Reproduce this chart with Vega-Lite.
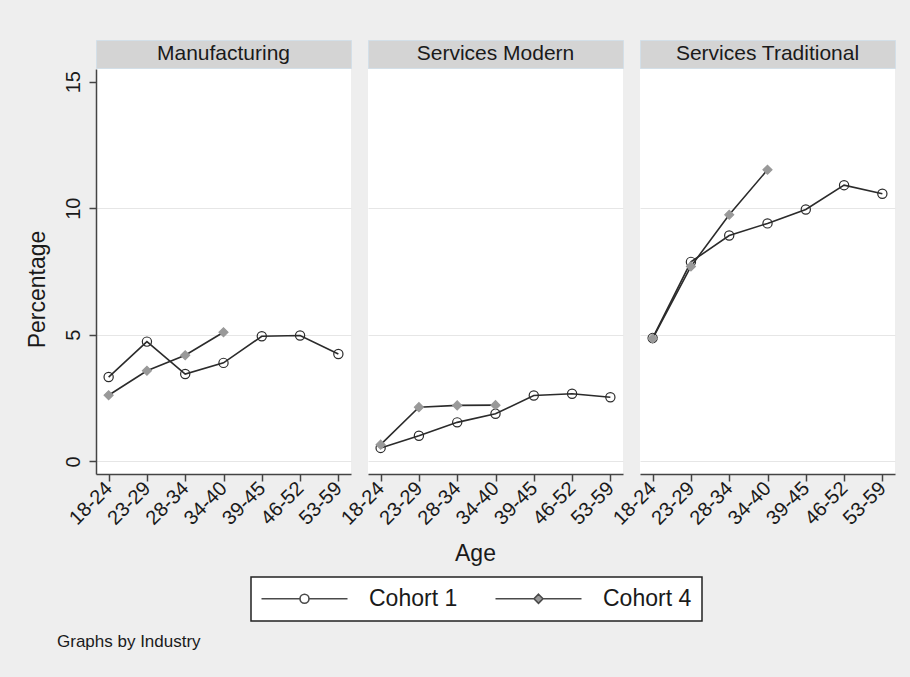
{
  "$schema": "https://vega.github.io/schema/vega-lite/v6.json",
  "background": "#eeeeee",
  "padding": {"left": 26, "top": 39, "right": 14, "bottom": 28},
  "config": {
    "font": "Liberation Sans",
    "view": {"stroke": null},
    "text": {"color": "#1a1a1a"},
    "axis": {
      "labelFont": "Liberation Sans",
      "titleFont": "Liberation Sans",
      "labelColor": "#1a1a1a",
      "titleColor": "#1a1a1a",
      "titleFontWeight": "normal",
      "domainColor": "#444444",
      "domainWidth": 1.5,
      "tickColor": "#444444",
      "tickWidth": 1.5,
      "tickSize": 7,
      "gridColor": "#e6e6e6",
      "gridWidth": 1
    },
    "legend": {
      "orient": "none",
      "legendX": 155,
      "legendY": 537,
      "direction": "horizontal",
      "columns": 2,
      "padding": 10,
      "fillColor": "#ffffff",
      "strokeColor": "#222222",
      "strokeWidth": 1.5,
      "symbolSize": 100,
      "symbolOffset": 32,
      "labelOffset": 53,
      "columnPadding": 34,
      "symbolStrokeColor": "#4a4a4a",
      "symbolStrokeWidth": 1.6,
      "labelFontSize": 23,
      "labelFont": "Liberation Sans",
      "labelColor": "#1a1a1a"
    },
    "title": {"font": "Liberation Sans", "color": "#1a1a1a", "fontWeight": "normal"}
  },
  "datasets": {
    "industries": [
      {"Industry": "Manufacturing"},
      {"Industry": "Services Modern"},
      {"Industry": "Services Traditional"}
    ],
    "rates": [
      {"Industry": "Manufacturing", "Cohort": "Cohort 1", "Age": "18-24", "Pct": 3.33},
      {"Industry": "Manufacturing", "Cohort": "Cohort 1", "Age": "23-29", "Pct": 4.73},
      {"Industry": "Manufacturing", "Cohort": "Cohort 1", "Age": "28-34", "Pct": 3.45},
      {"Industry": "Manufacturing", "Cohort": "Cohort 1", "Age": "34-40", "Pct": 3.89},
      {"Industry": "Manufacturing", "Cohort": "Cohort 1", "Age": "39-45", "Pct": 4.94},
      {"Industry": "Manufacturing", "Cohort": "Cohort 1", "Age": "46-52", "Pct": 4.97},
      {"Industry": "Manufacturing", "Cohort": "Cohort 1", "Age": "53-59", "Pct": 4.24},
      {"Industry": "Manufacturing", "Cohort": "Cohort 4", "Age": "18-24", "Pct": 2.61},
      {"Industry": "Manufacturing", "Cohort": "Cohort 4", "Age": "23-29", "Pct": 3.58},
      {"Industry": "Manufacturing", "Cohort": "Cohort 4", "Age": "28-34", "Pct": 4.19},
      {"Industry": "Manufacturing", "Cohort": "Cohort 4", "Age": "34-40", "Pct": 5.10},
      {"Industry": "Services Modern", "Cohort": "Cohort 1", "Age": "18-24", "Pct": 0.53},
      {"Industry": "Services Modern", "Cohort": "Cohort 1", "Age": "23-29", "Pct": 1.01},
      {"Industry": "Services Modern", "Cohort": "Cohort 1", "Age": "28-34", "Pct": 1.54},
      {"Industry": "Services Modern", "Cohort": "Cohort 1", "Age": "34-40", "Pct": 1.88},
      {"Industry": "Services Modern", "Cohort": "Cohort 1", "Age": "39-45", "Pct": 2.60},
      {"Industry": "Services Modern", "Cohort": "Cohort 1", "Age": "46-52", "Pct": 2.67},
      {"Industry": "Services Modern", "Cohort": "Cohort 1", "Age": "53-59", "Pct": 2.53},
      {"Industry": "Services Modern", "Cohort": "Cohort 4", "Age": "18-24", "Pct": 0.66},
      {"Industry": "Services Modern", "Cohort": "Cohort 4", "Age": "23-29", "Pct": 2.14},
      {"Industry": "Services Modern", "Cohort": "Cohort 4", "Age": "28-34", "Pct": 2.21},
      {"Industry": "Services Modern", "Cohort": "Cohort 4", "Age": "34-40", "Pct": 2.22},
      {"Industry": "Services Traditional", "Cohort": "Cohort 1", "Age": "18-24", "Pct": 4.87},
      {"Industry": "Services Traditional", "Cohort": "Cohort 1", "Age": "23-29", "Pct": 7.88},
      {"Industry": "Services Traditional", "Cohort": "Cohort 1", "Age": "28-34", "Pct": 8.92},
      {"Industry": "Services Traditional", "Cohort": "Cohort 1", "Age": "34-40", "Pct": 9.40},
      {"Industry": "Services Traditional", "Cohort": "Cohort 1", "Age": "39-45", "Pct": 9.95},
      {"Industry": "Services Traditional", "Cohort": "Cohort 1", "Age": "46-52", "Pct": 10.91},
      {"Industry": "Services Traditional", "Cohort": "Cohort 1", "Age": "53-59", "Pct": 10.57},
      {"Industry": "Services Traditional", "Cohort": "Cohort 4", "Age": "18-24", "Pct": 4.85},
      {"Industry": "Services Traditional", "Cohort": "Cohort 4", "Age": "23-29", "Pct": 7.70},
      {"Industry": "Services Traditional", "Cohort": "Cohort 4", "Age": "28-34", "Pct": 9.74},
      {"Industry": "Services Traditional", "Cohort": "Cohort 4", "Age": "34-40", "Pct": 11.52}
    ]
  },
  "title": {
    "text": "Graphs by Industry",
    "orient": "bottom",
    "anchor": "start",
    "frame": "group",
    "fontSize": 17,
    "dx": -39,
    "offset": 12
  },
  "spacing": 0,
  "vconcat": [
    {
      "bounds": "flush",
      "spacing": 17,
      "hconcat": [
        {
          "width": 255, "height": 28,
          "data": {"name": "industries"},
          "transform": [{"filter": "datum.Industry === 'Manufacturing'"}],
          "view": {"fill": "#d4d4d4", "stroke": "#d3dfe8"},
          "mark": {"type": "text", "fontSize": 21, "baseline": "middle", "align": "center"},
          "encoding": {"text": {"field": "Industry", "type": "nominal"}}
        },
        {
          "width": 255, "height": 28,
          "data": {"name": "industries"},
          "transform": [{"filter": "datum.Industry === 'Services Modern'"}],
          "view": {"fill": "#d4d4d4", "stroke": "#d3dfe8"},
          "mark": {"type": "text", "fontSize": 21, "baseline": "middle", "align": "center"},
          "encoding": {"text": {"field": "Industry", "type": "nominal"}}
        },
        {
          "width": 255, "height": 28,
          "data": {"name": "industries"},
          "transform": [{"filter": "datum.Industry === 'Services Traditional'"}],
          "view": {"fill": "#d4d4d4", "stroke": "#d3dfe8"},
          "mark": {"type": "text", "fontSize": 21, "baseline": "middle", "align": "center"},
          "encoding": {"text": {"field": "Industry", "type": "nominal"}}
        }
      ]
    },
    {
      "bounds": "flush",
      "spacing": 17,
      "hconcat": [
        {
          "width": 255, "height": 405,
          "data": {"name": "rates"},
          "transform": [{"filter": "datum.Industry === 'Manufacturing'"}],
          "view": {"fill": "#ffffff", "stroke": null},
          "encoding": {
            "x": {
              "field": "Age", "type": "ordinal",
              "scale": {"type": "point", "domain": ["18-24", "23-29", "28-34", "34-40", "39-45", "46-52", "53-59"], "padding": 0.33},
              "axis": {"title": null, "labelAngle": -45, "labelAlign": "right", "labelBaseline": "middle", "labelFontSize": 20, "labelPadding": 4, "grid": false}
            },
            "y": {
              "field": "Pct", "type": "quantitative",
              "scale": {"domain": [-0.5, 15.5], "nice": false, "zero": false},
              "axis": {
                "values": [0, 5, 10, 15],
                "title": "Percentage", "titleFontSize": 23, "titleAngle": -90,
                "titleX": -59, "titleY": 220, "titleAlign": "center", "titleBaseline": "middle",
                "labelAngle": -90, "labelAlign": "center", "labelBaseline": "bottom", "labelFontSize": 20, "labelPadding": 6,
                "grid": true,
                "gridOpacity": {"condition": {"test": "datum.value === 15", "value": 0}, "value": 1}
              }
            }
          },
          "layer": [
            {"mark": {"type": "line", "color": "#2b2b2b", "strokeWidth": 1.6}, "encoding": {"detail": {"field": "Cohort", "type": "nominal"}}},
            {
              "mark": {"type": "point", "filled": true, "strokeWidth": 1.2, "opacity": 1},
              "encoding": {
                "fill": {"field": "Cohort", "type": "nominal", "scale": {"domain": ["Cohort 1", "Cohort 4"], "range": ["transparent", "#999999"]}, "legend": {"title": null}},
                "shape": {"condition": {"test": "datum.Cohort === 'Cohort 4'", "value": "diamond"}, "value": "circle"},
                "stroke": {"condition": {"test": "datum.Cohort === 'Cohort 4'", "value": "#999999"}, "value": "#2b2b2b"},
                "size": {"condition": {"test": "datum.Cohort === 'Cohort 4'", "value": 80}, "value": 85}
              }
            },
            {
              "mark": {"type": "point", "filled": true, "opacity": 0, "stroke": "#4a4a4a", "strokeWidth": 1.6, "size": 100},
              "encoding": {
                "shape": {"field": "Cohort", "type": "nominal", "legend": {"title": null},
                  "scale": {"domain": ["Cohort 1", "Cohort 4"], "range": [
                    "M-8.6,0H-0.9M0.9,0H8.6M-0.9,0A0.9,0.9,0,1,1,0.9,0A0.9,0.9,0,1,1,-0.9,0Z",
                    "M-8.6,0H-0.9M0.9,0H8.6M0,-0.9L0.9,0L0,0.9L-0.9,0Z"]}},
                "fill": {"field": "Cohort", "type": "nominal", "scale": {"domain": ["Cohort 1", "Cohort 4"], "range": ["transparent", "#999999"]}, "legend": {"title": null}}
              }
            }
          ]
        },
        {
          "width": 255, "height": 405,
          "data": {"name": "rates"},
          "transform": [{"filter": "datum.Industry === 'Services Modern'"}],
          "view": {"fill": "#ffffff", "stroke": null},
          "encoding": {
            "x": {
              "field": "Age", "type": "ordinal",
              "scale": {"type": "point", "domain": ["18-24", "23-29", "28-34", "34-40", "39-45", "46-52", "53-59"], "padding": 0.33},
              "axis": {"title": "Age", "titleFontSize": 23, "titleX": 107, "titleY": 79, "titleAlign": "center", "titleBaseline": "middle",
                "labelAngle": -45, "labelAlign": "right", "labelBaseline": "middle", "labelFontSize": 20, "labelPadding": 4, "grid": false}
            },
            "y": {
              "field": "Pct", "type": "quantitative",
              "scale": {"domain": [-0.5, 15.5], "nice": false, "zero": false},
              "axis": {"values": [0, 5, 10, 15], "title": null, "labels": false, "ticks": false, "domain": false, "grid": true,
                "gridOpacity": {"condition": {"test": "datum.value === 15", "value": 0}, "value": 1}}
            }
          },
          "layer": [
            {"mark": {"type": "line", "color": "#2b2b2b", "strokeWidth": 1.6}, "encoding": {"detail": {"field": "Cohort", "type": "nominal"}}},
            {
              "mark": {"type": "point", "filled": true, "strokeWidth": 1.2, "opacity": 1},
              "encoding": {
                "fill": {"field": "Cohort", "type": "nominal", "scale": {"domain": ["Cohort 1", "Cohort 4"], "range": ["transparent", "#999999"]}, "legend": {"title": null}},
                "shape": {"condition": {"test": "datum.Cohort === 'Cohort 4'", "value": "diamond"}, "value": "circle"},
                "stroke": {"condition": {"test": "datum.Cohort === 'Cohort 4'", "value": "#999999"}, "value": "#2b2b2b"},
                "size": {"condition": {"test": "datum.Cohort === 'Cohort 4'", "value": 80}, "value": 85}
              }
            }
          ]
        },
        {
          "width": 255, "height": 405,
          "data": {"name": "rates"},
          "transform": [{"filter": "datum.Industry === 'Services Traditional'"}],
          "view": {"fill": "#ffffff", "stroke": null},
          "encoding": {
            "x": {
              "field": "Age", "type": "ordinal",
              "scale": {"type": "point", "domain": ["18-24", "23-29", "28-34", "34-40", "39-45", "46-52", "53-59"], "padding": 0.33},
              "axis": {"title": null, "labelAngle": -45, "labelAlign": "right", "labelBaseline": "middle", "labelFontSize": 20, "labelPadding": 4, "grid": false}
            },
            "y": {
              "field": "Pct", "type": "quantitative",
              "scale": {"domain": [-0.5, 15.5], "nice": false, "zero": false},
              "axis": {"values": [0, 5, 10, 15], "title": null, "labels": false, "ticks": false, "domain": false, "grid": true,
                "gridOpacity": {"condition": {"test": "datum.value === 15", "value": 0}, "value": 1}}
            }
          },
          "layer": [
            {"mark": {"type": "line", "color": "#2b2b2b", "strokeWidth": 1.6}, "encoding": {"detail": {"field": "Cohort", "type": "nominal"}}},
            {
              "mark": {"type": "point", "filled": true, "strokeWidth": 1.2, "opacity": 1},
              "encoding": {
                "fill": {"field": "Cohort", "type": "nominal", "scale": {"domain": ["Cohort 1", "Cohort 4"], "range": ["transparent", "#999999"]}, "legend": {"title": null}},
                "shape": {"condition": {"test": "datum.Cohort === 'Cohort 4'", "value": "diamond"}, "value": "circle"},
                "stroke": {"condition": {"test": "datum.Cohort === 'Cohort 4'", "value": "#999999"}, "value": "#2b2b2b"},
                "size": {"condition": {"test": "datum.Cohort === 'Cohort 4'", "value": 80}, "value": 85}
              }
            }
          ]
        }
      ]
    }
  ]
}
